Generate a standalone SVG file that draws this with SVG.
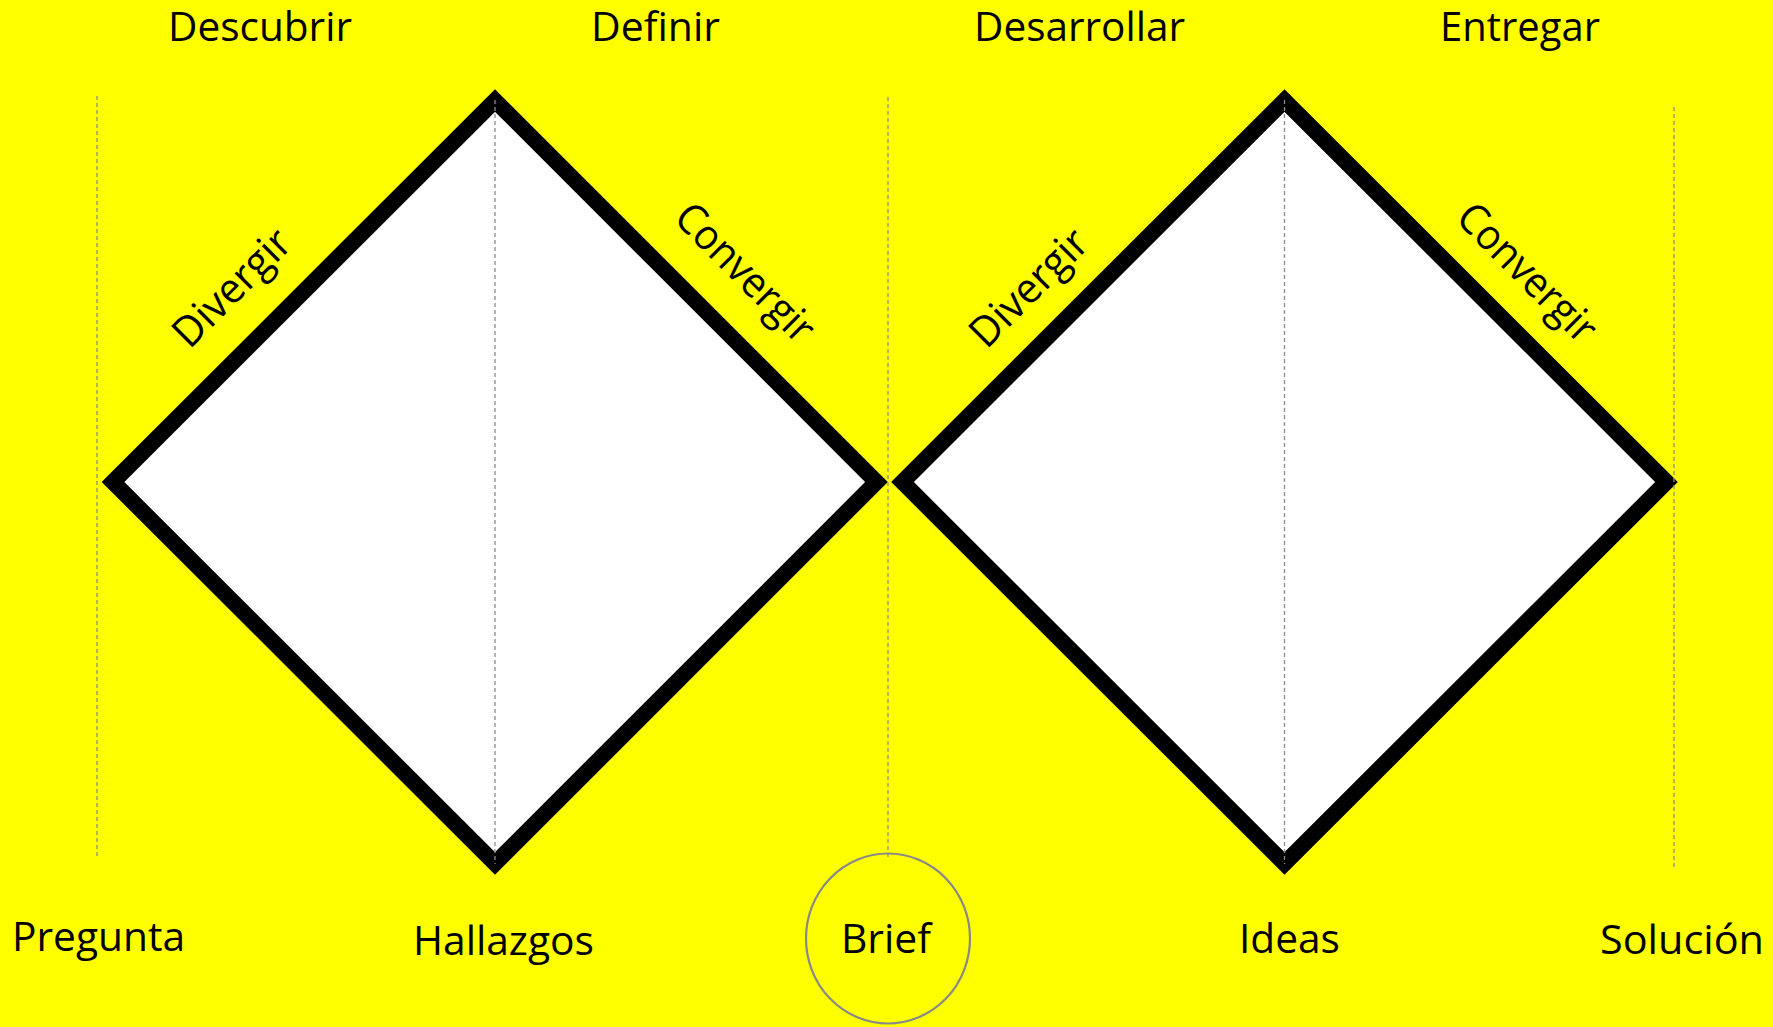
<svg xmlns="http://www.w3.org/2000/svg" width="1773" height="1027" viewBox="0 0 1773 1027">
  <style>
    .bg { fill: #FFFF00; }
    .diamond { fill: #FFFFFF; stroke: #000000; stroke-width: 16; stroke-linejoin: miter; stroke-miterlimit: 10; }
    .guide { stroke: #8C8C8C; stroke-width: 1.3; stroke-dasharray: 4 3; fill: none; }
    .lbl { font-family: "Open Sans", "Noto Sans", "Liberation Sans", sans-serif; font-size: 40px; fill: #000000; }
    .rot { font-family: "Open Sans", "Noto Sans", "Liberation Sans", sans-serif; font-size: 42px; fill: #000000; text-anchor: middle; }
    .brief { fill: none; stroke: #888888; stroke-width: 2.2; }
  </style>
  <rect class="bg" x="0" y="0" width="1773" height="1027"/>

  <g id="diamond-1">
    <polygon class="diamond" points="113,482 495,100.5 876.5,482 495,863.5"/>
  </g>
  <g id="diamond-2">
    <polygon class="diamond" points="902.5,482 1284.5,100.5 1666.5,482 1284.5,863.5"/>
  </g>

  <g id="guides">
    <line class="guide" x1="97" y1="96" x2="97" y2="859"/>
    <line class="guide" x1="495" y1="100" x2="495" y2="864"/>
    <line class="guide" x1="888" y1="97" x2="888" y2="860"/>
    <line class="guide" x1="1284.5" y1="100" x2="1284.5" y2="864"/>
    <line class="guide" x1="1674" y1="107" x2="1674" y2="868"/>
  </g>

  <g id="phase-labels">
    <text class="lbl" x="168" y="40.5" textLength="184" lengthAdjust="spacingAndGlyphs">Descubrir</text>
    <text class="lbl" x="591" y="40.5" textLength="129" lengthAdjust="spacingAndGlyphs">Definir</text>
    <text class="lbl" x="974" y="41" textLength="211" lengthAdjust="spacingAndGlyphs">Desarrollar</text>
    <text class="lbl" x="1440" y="40.5" textLength="160" lengthAdjust="spacingAndGlyphs">Entregar</text>
  </g>

  <g id="diag-labels">
    <text class="rot" transform="translate(234,290) rotate(-45)" y="11" textLength="148" lengthAdjust="spacingAndGlyphs">Divergir</text>
    <text class="rot" transform="translate(743,275) rotate(45)" y="11" textLength="178" lengthAdjust="spacingAndGlyphs">Convergir</text>
    <text class="rot" transform="translate(1031,290) rotate(-45)" y="11" textLength="148" lengthAdjust="spacingAndGlyphs">Divergir</text>
    <text class="rot" transform="translate(1525,275) rotate(45)" y="11" textLength="178" lengthAdjust="spacingAndGlyphs">Convergir</text>
  </g>

  <g id="pregunta">
    <text class="lbl" x="12" y="951" textLength="173" lengthAdjust="spacingAndGlyphs">Pregunta</text>
  </g>
  <g id="hallazgos">
    <text class="lbl" x="413" y="955" textLength="181" lengthAdjust="spacingAndGlyphs">Hallazgos</text>
  </g>
  <g id="brief">
    <ellipse class="brief" cx="888" cy="938.5" rx="82" ry="85"/>
    <text class="lbl" x="841" y="953" textLength="90" lengthAdjust="spacingAndGlyphs">Brief</text>
  </g>
  <g id="ideas">
    <text class="lbl" x="1239" y="953" textLength="101" lengthAdjust="spacingAndGlyphs">Ideas</text>
  </g>
  <g id="solucion">
    <text class="lbl" x="1600" y="954" textLength="164" lengthAdjust="spacingAndGlyphs">Solución</text>
  </g>
</svg>
